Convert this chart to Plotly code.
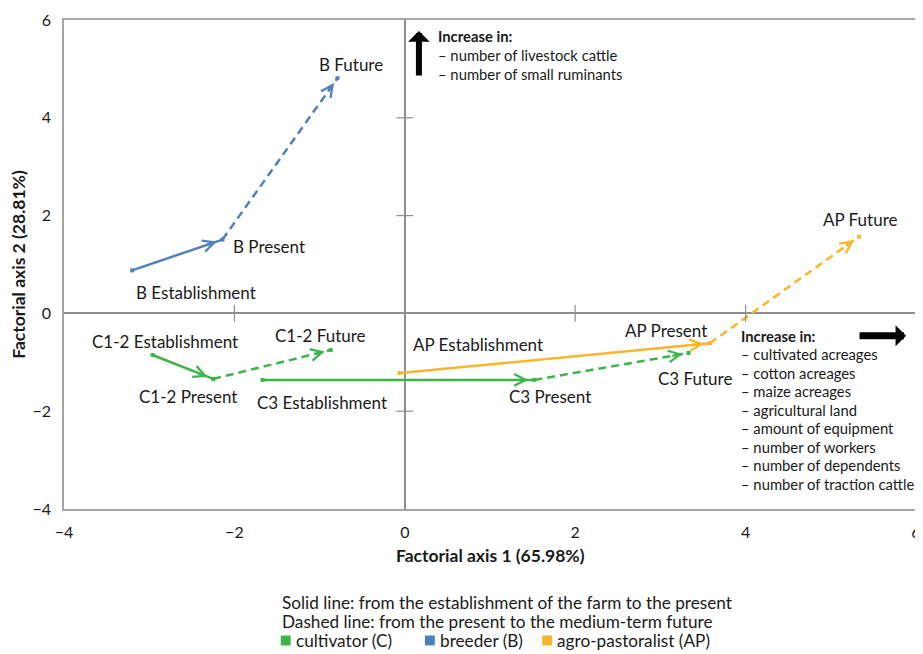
import math
import plotly.graph_objects as go

# ---------------- data ----------------
profiles = ["C1-2", "C3", "B", "AP"]
profile_colors = ["#3DB54A", "#3DB54A", "#4F81BD", "#FBB52C"]
establishment_x = [-2.96, -1.67, -3.20, -0.06]
establishment_y = [-0.85, -1.36, 0.88, -1.22]
present_x = [-2.25, 1.52, -2.14, 3.58]
present_y = [-1.34, -1.36, 1.51, -0.61]
future_x = [-0.87, 3.33, -0.79, 5.33]
future_y = [-0.75, -0.81, 4.81, 1.57]
stage_names = ["Establishment", "Present", "Future"]

x_ticks = [-4, -2, 0, 2, 4, 6]
y_ticks = [-4, -2, 0, 2, 4, 6]
x_title = "Factorial axis 1 (65.98%)"
y_title = "Factorial axis 2 (28.81%)"

top_box_lines = ["Increase in:", "– number of livestock cattle", "– number of small ruminants"]
right_box_lines = ["Increase in:", "– cultivated acreages", "– cotton acreages", "– maize acreages",
                   "– agricultural land", "– amount of equipment", "– number of workers",
                   "– number of dependents", "– number of traction cattle"]
note_lines = ["Solid line: from the establishment of the farm to the present",
              "Dashed line: from the present to the medium-term future"]
legend_names = ["cultivator (C)", "breeder (B)", "agro-pastoralist (AP)"]
legend_colors = ["#3DB54A", "#4F81BD", "#FBB52C"]

# ---------------- styles / layout ----------------
PAGE_OFF = 8  # default body margin of the html page
W, H = 923 - PAGE_OFF, 654 - PAGE_OFF
ML, MR, MT, MB = 64 - PAGE_OFF, 2, 18 - PAGE_OFF, 145
PW, PH = W - ML - MR, H - MT - MB
XR, YR = [-4, 6], [-4, 6]
kx = PW / (XR[1] - XR[0])
ky = PH / (YR[1] - YR[0])
FONT = "Lato"
GREY = "#8f8f8f"
TXT = "#1a1a1a"

# label pixel offsets per profile: establishment, present, future
label_shift = {
    "C1-2": [(12, 13), (-25, -18), (-10, 15)],
    "C3": [(59, -23), (16, -17), (6, -25)],
    "B": [(64, -22), (47, -7), (14, 14)],
    "AP": [(78, 29), (-44, 13), (1, 17)],
}

PLOT_LEFT_PAGE = PAGE_OFF + ML
PLOT_BOTTOM_PAGE = PAGE_OFF + MT + PH


def px(xp):
    return (xp - PLOT_LEFT_PAGE) / PW


def py(yp):
    return (PLOT_BOTTOM_PAGE - yp) / PH


fig = go.Figure()
annotations = []
shapes = []

for i, prof in enumerate(profiles):
    col = profile_colors[i]
    xs = [establishment_x[i], present_x[i], future_x[i]]
    ys = [establishment_y[i], present_y[i], future_y[i]]
    for seg, dash in ((0, "solid"), (1, "8px,5px")):
        x0, y0, x1, y1 = xs[seg], ys[seg], xs[seg + 1], ys[seg + 1]
        fig.add_trace(go.Scatter(
            x=[x0, x1], y=[y0, y1], mode="lines",
            line=dict(color=col, width=2.5, dash=dash, backoff=6),
            hoverinfo="skip", showlegend=False))
        dxp = (x1 - x0) * kx
        dyp = (y1 - y0) * ky
        n = math.hypot(dxp, dyp)
        L = 18
        annotations.append(dict(
            x=x1, y=y1, xref="x", yref="y", text="", showarrow=True,
            ax=-dxp / n * L, ay=dyp / n * L, axref="pixel", ayref="pixel",
            arrowhead=5, arrowsize=0.95, arrowwidth=2.4, arrowcolor=col, standoff=6))
    fig.add_trace(go.Scatter(
        x=xs, y=ys, mode="markers",
        marker=dict(symbol="square", size=4, color=col, line=dict(width=0)),
        hoverinfo="skip", showlegend=False))
    for s in range(3):
        dx, dy = label_shift[prof][s]
        annotations.append(dict(
            x=xs[s], y=ys[s], xref="x", yref="y",
            text=f"{prof} {stage_names[s]}", showarrow=False,
            xanchor="center", yanchor="middle", xshift=dx, yshift=dy,
            font=dict(family=FONT, size=17, color=TXT)))

# cross ticks on the zero axes
inner_x = [t for t in x_ticks if t not in (0, XR[0], XR[1])]
inner_y = [t for t in y_ticks if t not in (0, YR[0], YR[1])]
fig.add_trace(go.Scatter(
    x=inner_x + [0] * len(inner_y), y=[0] * len(inner_x) + inner_y, mode="markers",
    marker=dict(symbol=["line-ns"] * len(inner_x) + ["line-ew"] * len(inner_y),
                size=12, line=dict(color=GREY, width=1.2)),
    hoverinfo="skip", showlegend=False))

# axis titles
annotations.append(dict(x=0.5, y=py(556), xref="paper", yref="paper", text=f"<b>{x_title}</b>",
                        showarrow=False, xanchor="center", yanchor="middle",
                        font=dict(family=FONT, size=17.5, color=TXT)))
annotations.append(dict(x=px(18), y=0.5, xref="paper", yref="paper", text=f"<b>{y_title}</b>",
                        showarrow=False, xanchor="center", yanchor="middle", textangle=-90,
                        font=dict(family=FONT, size=17.5, color=TXT)))

# top info box
for j, t in enumerate(top_box_lines):
    annotations.append(dict(x=px(438), y=py(34 + 19 * j), xref="paper", yref="paper",
                            text=f"<b>{t}</b>" if j == 0 else t, showarrow=False,
                            xanchor="left", yanchor="middle",
                            font=dict(family=FONT, size=14.8, color=TXT)))
# right info box
for j, t in enumerate(right_box_lines):
    annotations.append(dict(x=px(743), y=py(335 + 18.6 * j), xref="paper", yref="paper",
                            text=f"<b>{t}</b>" if j == 0 else t, showarrow=False,
                            xanchor="left", yanchor="middle",
                            font=dict(family=FONT, size=14.8, color=TXT)))

# black direction arrows
annotations.append(dict(x=px(421), y=py(29), xref="paper", yref="paper", text="", showarrow=True,
                        ax=0, ay=46, arrowhead=1, arrowsize=0.6, arrowwidth=6, arrowcolor="black"))
annotations.append(dict(x=px(911), y=py(335), xref="paper", yref="paper", text="", showarrow=True,
                        ax=-48, ay=0, arrowhead=1, arrowsize=0.5, arrowwidth=7, arrowcolor="black"))

# note lines and legend
for j, t in enumerate(note_lines):
    annotations.append(dict(x=px(281), y=py(603 + 19 * j), xref="paper", yref="paper",
                            text=t, showarrow=False, xanchor="left", yanchor="middle",
                            font=dict(family=FONT, size=17.2, color=TXT)))
legend_left = [282, 427, 545]
for j, (name, col) in enumerate(zip(legend_names, legend_colors)):
    shapes.append(dict(type="rect", xref="paper", yref="paper",
                       x0=px(legend_left[j]), x1=px(legend_left[j] + 10),
                       y0=py(646), y1=py(636), fillcolor=col, line=dict(width=0)))
    annotations.append(dict(x=px(legend_left[j] + 13), y=py(641), xref="paper", yref="paper",
                            text=name, showarrow=False, xanchor="left", yanchor="middle",
                            font=dict(family=FONT, size=17.2, color=TXT)))

axis_common = dict(showgrid=False, zeroline=True, zerolinecolor=GREY, zerolinewidth=1.6,
                   showline=True, mirror=True, linecolor="#a6a6a6", linewidth=1.5,
                   ticks="outside", tickcolor="rgba(0,0,0,0)", ticklen=8,
                   ticklabeloverflow="allow",
                   tickfont=dict(family=FONT, size=16, color=TXT))
fig.update_xaxes(range=XR, tickvals=x_ticks, **axis_common)
fig.update_yaxes(range=YR, tickvals=y_ticks, **axis_common)

fig.update_layout(
    width=W, height=H, autosize=False,
    margin=dict(l=ML, r=MR, t=MT, b=MB, pad=0),
    paper_bgcolor="white", plot_bgcolor="white",
    font=dict(family=FONT),
    annotations=annotations,
    shapes=shapes,
    showlegend=False,
)

fig.write_html("out.html")
